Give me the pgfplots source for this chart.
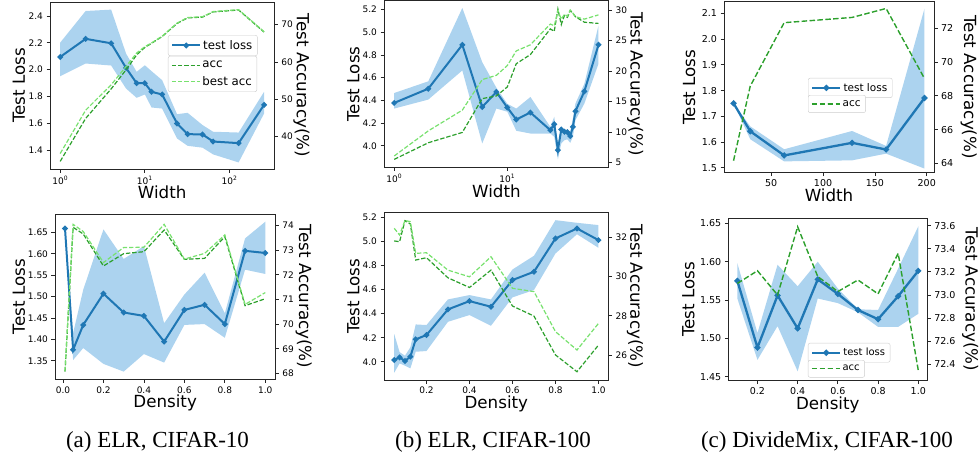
\documentclass[border=0pt]{standalone}
\usepackage{pgfplots}
\pgfplotsset{compat=1.18}
\usepackage{pgfplotstable}
\usepackage{fontspec}
\setmainfont{DejaVu Sans}
\newfontfamily\capfont{Liberation Serif}
\definecolor{tabblue}{RGB}{31,119,180}
\definecolor{bandblue}{RGB}{172,211,239}
\definecolor{accg}{RGB}{44,160,44}
\definecolor{bestg}{RGB}{120,225,110}

\pgfplotstableread{
w loss acc best
1 2.094 33.4 35.5
2 2.229 44.9 47.1
4 2.196 52.8 53.9
6 2.012 57.9 58.8
8 1.898 61.9 62.4
10 1.898 63.9 64.1
12 1.834 65.0 65.1
16 1.814 66.8 66.9
24 1.598 70.3 70.4
32 1.518 71.8 71.9
48 1.516 72.0 72.1
64 1.463 73.4 73.5
128 1.451 73.9 74.0
256 1.737 68.0 68.1
}\tA
\pgfplotstableread{
w v
1 2.201
2 2.437
4 2.447
6 2.119
8 1.983
10 2.032
12 1.988
16 1.921
24 1.667
32 1.677
48 1.586
64 1.536
128 1.530
256 1.834
256 1.672
128 1.307
64 1.367
48 1.417
32 1.431
24 1.486
16 1.709
12 1.717
10 1.814
8 1.789
6 1.858
4 2.030
2 2.045
1 1.950
}\bA

\pgfplotstableread{
w loss acc best
1 4.378 5.54 6.1
2 4.503 8.26 10.2
4 4.890 9.95 13.6
6 4.342 15.49 18.6
8 4.474 15.92 19.3
10 4.337 17.4 20.9
12 4.231 21.2 23.3
16 4.293 22.7 24.3
24 4.138 26.9 27.7
26 4.190 26.5 27.4
28 3.962 30.16 29.9
30 4.143 27.6 28.5
32 4.123 29.1 29.3
34 4.120 28.8 29.0
36 4.085 29.9 30.0
38 4.167 29.46 29.5
40 4.304 28.9 28.9
48 4.480 28.0 28.5
64 4.890 27.8 29.2
}\tB
\pgfplotstableread{
w v
1 4.465
2 4.568
4 5.215
6 4.737
8 4.512
10 4.370
12 4.328
16 4.430
24 4.167
26 4.255
28 4.020
30 4.152
32 4.140
34 4.130
36 4.123
38 4.240
40 4.372
48 4.547
64 5.060
64 4.723
48 4.372
40 4.225
38 4.079
36 4.026
34 4.056
32 4.050
30 4.020
28 3.880
26 4.079
24 4.108
16 4.108
12 4.132
10 4.300
8 4.328
6 4.020
4 4.664
2 4.407
1 4.328
}\bB

\pgfplotstableread{
w loss acc
13.7 1.7505 64.16
29.8 1.642 68.57
62.5 1.548 72.32
128 1.597 72.63
160.8 1.571 73.16
197.8 1.771 69.02
}\tC
\pgfplotstableread{
w v
13.7 1.7505
29.8 1.661
62.5 1.572
128 1.643
160.8 1.585
197.8 2.118
197.8 1.497
160.8 1.555
128 1.529
62.5 1.525
29.8 1.611
13.7 1.7505
}\bC

\pgfplotstableread{
d loss acc best
0.01 1.659 68.07 68.1
0.05 1.376 73.93 74.05
0.1 1.434 73.66 73.76
0.2 1.507 72.36 72.5
0.3 1.463 72.86 73.11
0.4 1.455 72.94 73.12
0.5 1.395 73.82 74.05
0.6 1.469 72.63 72.64
0.7 1.481 72.67 72.87
0.8 1.436 73.55 73.62
0.9 1.607 70.75 70.8
1.0 1.602 71.03 71.28
}\tD
\pgfplotstableread{
d v
0.01 1.659
0.05 1.415
0.1 1.516
0.2 1.657
0.3 1.588
0.4 1.618
0.5 1.438
0.6 1.505
0.7 1.556
0.8 1.461
0.9 1.636
1.0 1.675
1.0 1.553
0.9 1.563
0.8 1.404
0.7 1.436
0.6 1.434
0.5 1.346
0.4 1.366
0.3 1.325
0.2 1.343
0.1 1.380
0.05 1.352
0.01 1.659
}\bD

\pgfplotstableread{
d loss acc best
0.05 4.014 31.8 32.44
0.075 4.036 31.76 32.1
0.1 4.006 32.83 32.83
0.125 4.042 32.66 32.78
0.15 4.186 30.83 31.17
0.2 4.222 30.95 31.2
0.3 4.435 29.93 30.32
0.4 4.504 29.44 29.98
0.5 4.457 30.32 31.0
0.6 4.679 28.5 29.4
0.7 4.748 27.99 29.23
0.8 5.025 26.02 27.2
0.9 5.108 25.17 26.27
1.0 5.011 26.52 27.62
}\tE
\pgfplotstableread{
d v
0.05 4.230
0.075 4.080
0.1 4.050
0.125 4.120
0.15 4.310
0.2 4.305
0.3 4.518
0.4 4.554
0.5 4.518
0.6 4.767
0.7 4.881
0.8 5.177
0.9 5.155
1.0 5.136
1.0 4.947
0.9 5.060
0.8 4.900
0.7 4.596
0.6 4.535
0.5 4.299
0.4 4.388
0.3 4.332
0.2 4.089
0.15 4.083
0.125 3.945
0.1 3.967
0.075 3.986
0.05 3.909
}\bE

\pgfplotstableread{
d loss acc
0.1 1.575 73.10
0.2 1.488 73.21
0.3 1.556 73.00
0.4 1.513 73.59
0.5 1.577 73.16
0.6 1.558 73.03
0.7 1.537 73.13
0.8 1.525 73.01
0.9 1.555 73.36
1.0 1.588 72.35
}\tF
\pgfplotstableread{
d v
0.1 1.598
0.2 1.507
0.3 1.596
0.4 1.568
0.5 1.600
0.6 1.565
0.7 1.538
0.8 1.537
0.9 1.591
1.0 1.646
1.0 1.532
0.9 1.515
0.8 1.515
0.7 1.534
0.6 1.546
0.5 1.552
0.4 1.457
0.3 1.516
0.2 1.472
0.1 1.552
}\bF

\pgfplotsset{
  panel/.style={scale only axis, tick align=outside,
    axis line style={line width=0.9pt, black!85},
    every tick/.style={black!85, line width=0.8pt},
    major tick length=3.5pt, minor tick length=2pt,
    label style={font=\fontsize{16.7}{18}\selectfont},
    ticklabel style={font=\fontsize{9}{10}\selectfont},
    /pgf/number format/assume math mode=true},
  lft/.style={panel, tick pos=left},
  rgt/.style={panel, axis x line=none, axis y line*=right},
  lyl/.style={ylabel style={at={(axis description cs:#1,0.5)}, anchor=base}},
  ryl/.style={ylabel style={at={(axis description cs:#1,0.5)}, rotate=180, anchor=base}},
  xl/.style={xlabel style={at={(axis description cs:0.5,#1)}, anchor=base}},
  yfmt/.style={yticklabel style={/pgf/number format/.cd, fixed, fixed zerofill, precision=#1}},
  xfmt/.style={xticklabel style={/pgf/number format/.cd, fixed, fixed zerofill, precision=#1}},
  lossline/.style={tabblue, draw=tabblue, line width=2pt, mark=*, mark size=1.7pt,
    mark options={solid, draw=tabblue, fill=tabblue}},
  accline/.style={accg, draw=accg, line width=1.2pt, dash pattern=on 4.4pt off 1.9pt},
  bestline/.style={bestg, draw=bestg, line width=1.2pt, dash pattern=on 4.4pt off 1.9pt},
  accC/.style={accg, draw=accg, line width=1.4pt, dash pattern=on 5.5pt off 2.4pt},
  band/.style={fill=bandblue, draw=none, forget plot},
  leg/.style={legend cell align=left,
    legend style={draw=black!20, rounded corners=2pt, fill=white,
      inner xsep=3pt, inner ysep=3pt,
      font=\fontsize{#1}{#1}\selectfont, anchor=north west},
    legend image code/.code={\draw[mark repeat=2, mark phase=2, ##1] plot coordinates {(0pt,0pt) (14pt,0pt) (28pt,0pt)};}},
}

\begin{document}
\begin{tikzpicture}
\useasboundingbox (0,0) rectangle (979pt,459pt);

% ---------------- (a) top
\begin{axis}[lft, at={(50pt,290pt)}, anchor=south west, width=224.3pt, height=167pt,
  xmode=log, log basis x=10, xmin=0.758, xmax=338, xtick={1,10,100},
  xticklabels={10\textsuperscript{0},10\textsuperscript{1},10\textsuperscript{2}},
  ymin=1.258, ymax=2.504, ytick={1.4,1.6,1.8,2.0,2.2,2.4}, yfmt=1,
  xlabel={Width}, ylabel={Test Loss}, xl=-0.1796, lyl=-0.1115,
  leg=11.8, legend style={at={(0.526,0.802)}}]
\addplot[band] table[x=w,y=v]{\bA};
\addplot[lossline] table[x=w,y=loss]{\tA};
\addlegendentry{test loss}
\end{axis}
\begin{axis}[rgt, at={(50pt,290pt)}, anchor=south west, width=224.3pt, height=167pt,
  xmode=log, xmin=0.758, xmax=338,
  ymin=31.36, ymax=76.05, ytick={40,50,60,70},
  ylabel={Test Accuracy(\%)}, ryl=1.1012, leg=11.8,
  legend style={at={(0.526,0.677)}, row sep=3pt}]
\addplot[accline] table[x=w,y=acc]{\tA};
\addlegendentry{acc}
\addplot[bestline] table[x=w,y=best]{\tA};
\addlegendentry{best acc}
\end{axis}

% ---------------- (b) top
\begin{axis}[lft, at={(384pt,291.7pt)}, anchor=south west, width=224.7pt, height=166.6pt,
  xmode=log, log basis x=10, xmin=0.812, xmax=78.8, xtick={1,10},
  xticklabels={10\textsuperscript{0},10\textsuperscript{1}},
  ymin=3.81, ymax=5.279, ytick={4.0,4.2,4.4,4.6,4.8,5.0,5.2}, yfmt=1,
  xlabel={Width}, ylabel={Test Loss}, xl=-0.180, lyl=-0.1099]
\addplot[band] table[x=w,y=v]{\bB};
\addplot[lossline] table[x=w,y=loss]{\tB};
\end{axis}
\begin{axis}[rgt, at={(384pt,291.7pt)}, anchor=south west, width=224.7pt, height=166.6pt,
  xmode=log, xmin=0.812, xmax=78.8,
  ymin=4.24, ymax=31.52, ytick={5,10,15,20,25,30},
  ylabel={Test Accuracy(\%)}, ryl=1.0975]
\addplot[accline] table[x=w,y=acc]{\tB};
\addplot[bestline] table[x=w,y=best]{\tB};
\end{axis}

% ---------------- (c) top
\begin{axis}[lft, at={(724pt,286.3pt)}, anchor=south west, width=210pt, height=171pt,
  xmin=4.5, xmax=207, xtick={50,100,150,200},
  ymin=1.481, ymax=2.145, ytick={1.5,1.6,1.7,1.8,1.9,2.0,2.1}, yfmt=1,
  ticklabel style={font=\fontsize{9.5}{10}\selectfont},
  xlabel={Width}, ylabel={Test Loss}, xl=-0.1696, lyl=-0.1381,
  leg=10.5, legend style={at={(0.4,0.554)}},
  lossline/.append style={line width=2.3pt}]
\addplot[band] table[x=w,y=v]{\bC};
\addplot[lossline] table[x=w,y=loss]{\tC};
\addlegendentry{test loss}
\end{axis}
\begin{axis}[rgt, at={(724pt,286.3pt)}, anchor=south west, width=210pt, height=171pt,
  xmin=4.5, xmax=207,
  ymin=63.45, ymax=73.56, ytick={64,66,68,70,72},
  ticklabel style={font=\fontsize{9.5}{10}\selectfont},
  ylabel={Test Accuracy(\%)}, ryl=1.1429, leg=10.5, legend style={at={(0.4,0.454)}}]
\addplot[accC] table[x=w,y=acc]{\tC};
\addlegendentry{acc}
\end{axis}

% ---------------- (a) bottom
\begin{axis}[lft, at={(55pt,79.7pt)}, anchor=south west, width=220.3pt, height=165.3pt,
  xmin=-0.0395, xmax=1.0495, xtick={0,0.2,0.4,0.6,0.8,1}, xfmt=1,
  ymin=1.307, ymax=1.693, ytick={1.35,1.40,1.45,1.50,1.55,1.60,1.65}, yfmt=2,
  xlabel={Density}, ylabel={Test Loss}, xl=-0.1676, lyl=-0.1362]
\addplot[band] table[x=d,y=v]{\bD};
\addplot[lossline] table[x=d,y=loss]{\tD};
\end{axis}
\begin{axis}[rgt, at={(55pt,79.7pt)}, anchor=south west, width=220.3pt, height=165.3pt,
  xmin=-0.0395, xmax=1.0495,
  ymin=67.76, ymax=74.47, ytick={68,69,70,71,72,73,74},
  ylabel={Test Accuracy(\%)}, ryl=1.1076]
\addplot[accline] table[x=d,y=acc]{\tD};
\addplot[bestline] table[x=d,y=best]{\tD};
\end{axis}

% ---------------- (b) bottom
\begin{axis}[lft, at={(384pt,79pt)}, anchor=south west, width=224.7pt, height=167.3pt,
  xmin=0.0025, xmax=1.0475, xtick={0.2,0.4,0.6,0.8,1}, xfmt=1,
  ymin=3.848, ymax=5.239, ytick={4.0,4.2,4.4,4.6,4.8,5.0,5.2}, yfmt=1,
  xlabel={Density}, ylabel={Test Loss}, xl=-0.1733, lyl=-0.1099]
\addplot[band] table[x=d,y=v]{\bE};
\addplot[lossline] table[x=d,y=loss]{\tE};
\end{axis}
\begin{axis}[rgt, at={(384pt,79pt)}, anchor=south west, width=224.7pt, height=167.3pt,
  xmin=0.0025, xmax=1.0475,
  ymin=24.75, ymax=33.23, ytick={26,28,30,32},
  ylabel={Test Accuracy(\%)}, ryl=1.0961]
\addplot[accline] table[x=d,y=acc]{\tE};
\addplot[bestline] table[x=d,y=best]{\tE};
\end{axis}

% ---------------- (c) bottom
\begin{axis}[lft, at={(728.3pt,78.3pt)}, anchor=south west, width=199pt, height=162.7pt,
  xmin=0.055, xmax=1.045, xtick={0.2,0.4,0.6,0.8,1}, xfmt=1,
  ymin=1.4448, ymax=1.657, ytick={1.45,1.50,1.55,1.60,1.65}, yfmt=2,
  ticklabel style={font=\fontsize{9.5}{10}\selectfont},
  xlabel={Density}, ylabel={Test Loss}, xl=-0.1739, lyl=-0.1709,
  leg=10, legend style={at={(0.4,0.232)}},
  lossline/.append style={line width=2.3pt}]
\addplot[band] table[x=d,y=v]{\bF};
\addplot[lossline] table[x=d,y=loss]{\tF};
\addlegendentry{test loss}
\end{axis}
\begin{axis}[rgt, at={(728.3pt,78.3pt)}, anchor=south west, width=199pt, height=162.7pt,
  xmin=0.055, xmax=1.045,
  ymin=72.259, ymax=73.666, ytick={72.4,72.6,72.8,73.0,73.2,73.4,73.6}, yfmt=1,
  ticklabel style={font=\fontsize{9.5}{10}\selectfont},
  ylabel={Test Accuracy(\%)}, ryl=1.1925, leg=10, legend style={at={(0.4,0.127)}}]
\addplot[accC] table[x=d,y=acc]{\tF};
\addlegendentry{acc}
\end{axis}

% captions
\node[font=\capfont\fontsize{23}{26}\selectfont, anchor=base] at (157.5pt,12pt) {(a) ELR, CIFAR-10};
\node[font=\capfont\fontsize{23}{26}\selectfont, anchor=base] at (493pt,12pt) {(b) ELR, CIFAR-100};
\node[font=\capfont\fontsize{23}{26}\selectfont, anchor=base] at (827pt,12pt) {(c) DivideMix, CIFAR-100};
\end{tikzpicture}
\end{document}
